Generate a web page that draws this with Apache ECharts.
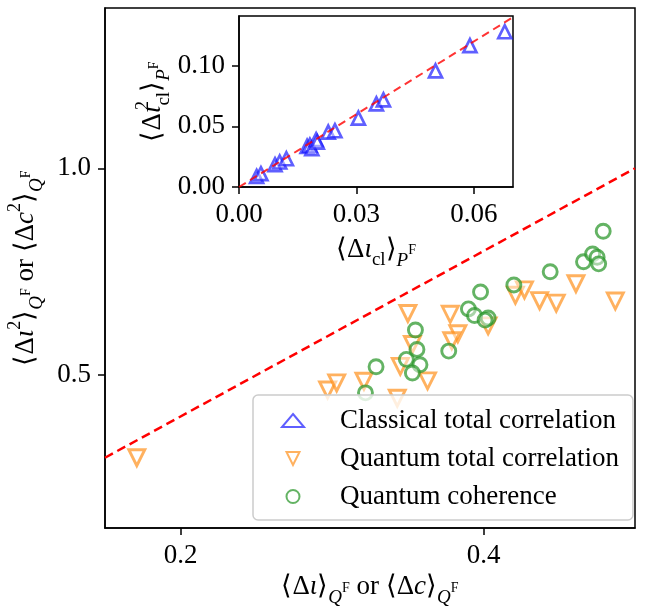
<!DOCTYPE html>
<html><head><meta charset="utf-8">
<script src="https://cdn.jsdelivr.net/npm/echarts@6/dist/echarts.min.js"></script>
<style>html,body{margin:0;padding:0;background:#fff}#c{width:657px;height:609px}</style>
</head><body><div id="c"></div>
<script>
// ---- data ----
const classicalX = [0.0045,0.0056,0.0092,0.0104,0.0121,0.0174,0.0181,0.0186,0.0197,0.0200,0.0228,0.0245,0.0305,0.0351,0.0369,0.0502,0.0590,0.0679];
const classicalY = [0.0087,0.0110,0.0184,0.0206,0.0233,0.0335,0.0345,0.0316,0.0390,0.0370,0.0453,0.0464,0.0568,0.0686,0.0719,0.0958,0.1166,0.1280];
const quantumX = [0.171,0.297,0.303,0.321,0.343,0.350,0.345,0.353,0.363,0.378,0.383,0.379,0.403,0.421,0.427,0.437,0.448,0.461,0.487];
const quantumY = [0.300,0.464,0.481,0.485,0.444,0.649,0.521,0.574,0.486,0.647,0.600,0.583,0.619,0.693,0.706,0.680,0.674,0.721,0.679];
const coherenceX = [0.322,0.329,0.349,0.355,0.356,0.358,0.353,0.377,0.390,0.394,0.398,0.403,0.401,0.420,0.444,0.466,0.472,0.475,0.476,0.479];
const coherenceY = [0.457,0.520,0.538,0.609,0.562,0.525,0.505,0.558,0.660,0.644,0.701,0.638,0.633,0.718,0.750,0.774,0.793,0.785,0.769,0.848];
const mainRefX = [0.15, 0.5];
const mainRefY = [0.30, 1.00];
const insetRefX = [0.0, 0.07];
const insetRefY = [0.0, 0.14];
const mainXTicks = [0.2, 0.4];
const mainYTicks = [0.5, 1.0];
const insetXTicks = [0.0, 0.03, 0.06];
const insetYTicks = [0.0, 0.05, 0.10];
const seriesNames = ['Classical total correlation','Quantum total correlation','Quantum coherence'];

const zip = (a,b) => a.map((v,i)=>[v,b[i]]);
const FONT = 'Liberation Serif';
const FS = 27;
const rich = {
  a:{fontFamily:FONT,fontSize:FS,color:'#000',verticalAlign:'bottom',padding:[0,0,7,0]},
  i:{fontFamily:FONT,fontSize:FS,fontStyle:'italic',color:'#000',verticalAlign:'bottom',padding:[0,0,7,0]},
  s:{fontFamily:FONT,fontSize:19,fontStyle:'italic',color:'#000',verticalAlign:'bottom',padding:[0,0,0,0]},
  sc:{fontFamily:FONT,fontSize:19,color:'#000',verticalAlign:'bottom',padding:[0,0,0,0]},
  p:{fontFamily:FONT,fontSize:14,color:'#000',verticalAlign:'bottom',padding:[0,0,13,0]},
  p2:{fontFamily:FONT,fontSize:18,color:'#000',verticalAlign:'bottom',padding:[0,0,22,0]},
  p3:{fontFamily:FONT,fontSize:18,color:'#000',verticalAlign:'bottom',padding:[0,0,22,0],width:0.1,align:'left'}
};
const axisCommon = {
  type:'value',
  axisLine:{show:true,onZero:false,lineStyle:{color:'#000',width:1.5}},
  splitLine:{show:false},
  nameTextStyle:{rich:rich}
};
const blue='rgba(20,20,255,0.85)', orange='rgba(255,140,20,0.85)', green='rgba(40,150,40,0.9)';
const fill='rgba(255,255,255,0.55)';
const chart = echarts.init(document.getElementById('c'));
chart.setOption({
  animation:false,
  backgroundColor:'#fff',
  grid:[
    {left:105,right:22,top:8,bottom:81,show:true,borderColor:'#000',borderWidth:1.5,backgroundColor:'transparent',containLabel:false,outerBoundsMode:'none'},
    {left:239,right:144,top:16,bottom:422,show:true,borderColor:'#000',borderWidth:1.5,backgroundColor:'#fff',z:5,containLabel:false,outerBoundsMode:'none'}
  ],
  xAxis:[
    Object.assign({},axisCommon,{gridIndex:0,min:0.15,max:0.5,
      axisTick:{show:true,length:7,lineStyle:{color:'#000',width:1.5},customValues:mainXTicks},
      axisLabel:{fontFamily:FONT,fontSize:FS,color:'#000',margin:14,customValues:mainXTicks,formatter:v=>v.toFixed(1)},
      name:'{a|⟨Δ}{i|ι}{a|⟩}{s|Q}{p|F}{a| or ⟨Δ}{i|c}{a|⟩}{s|Q}{p|F}',nameLocation:'middle',nameGap:42}),
    Object.assign({},axisCommon,{gridIndex:1,min:0,max:0.07,z:6,
      axisTick:{show:true,length:7,lineStyle:{color:'#000',width:1.5},customValues:insetXTicks},
      axisLabel:{fontFamily:FONT,fontSize:FS,color:'#000',margin:14,customValues:insetXTicks,formatter:v=>v.toFixed(2)},
      name:'{a|⟨Δ}{i|ι}{sc|cl}{a|⟩}{s|P}{p|F}',nameLocation:'middle',nameGap:49})
  ],
  yAxis:[
    Object.assign({},axisCommon,{gridIndex:0,min:0.13,max:1.388,
      axisTick:{show:true,length:7,lineStyle:{color:'#000',width:1.5},customValues:mainYTicks},
      axisLabel:{fontFamily:FONT,fontSize:FS,color:'#000',margin:14,customValues:mainYTicks,formatter:v=>v.toFixed(1)},
      name:'{a|⟨Δ}{i|ι}{p2|2}{a|⟩}{s|Q}{p|F}{a| or ⟨Δ}{i|c}{p2|2}{a|⟩}{s|Q}{p|F}',nameLocation:'middle',nameGap:58,nameRotate:90}),
    Object.assign({},axisCommon,{gridIndex:1,min:0,max:0.141,z:6,
      axisTick:{show:true,length:7,lineStyle:{color:'#000',width:1.5},customValues:insetYTicks},
      axisLabel:{fontFamily:FONT,fontSize:FS,color:'#000',margin:14,customValues:insetYTicks,formatter:v=>v.toFixed(2)},
      name:'{a|⟨Δ}{i|ι}{p3|2}{sc|cl}{a|⟩}{s|P}{p|F}',nameLocation:'middle',nameGap:64,nameRotate:90})
  ],
  legend:{
    data:seriesNames,orient:'vertical',left:253,top:395,
    padding:[12,14,10,28],itemWidth:22,itemHeight:13,itemGap:11,
    backgroundColor:'rgba(255,255,255,0.8)',borderColor:'#cccccc',borderWidth:1.5,borderRadius:5,
    textStyle:{fontFamily:FONT,fontSize:FS,color:'#000',padding:[0,0,0,31]}
  },
  series:[
    {name:'Quantum total correlation',type:'scatter',xAxisIndex:0,yAxisIndex:0,data:zip(quantumX,quantumY),
      symbol:'path://M0,0L2,0L1,2Z',symbolSize:16,symbolKeepAspect:true,
      itemStyle:{color:fill,borderColor:orange,borderWidth:2.9}},
    {name:'Quantum coherence',type:'scatter',xAxisIndex:0,yAxisIndex:0,data:zip(coherenceX,coherenceY),
      symbol:'circle',symbolSize:14,
      itemStyle:{color:fill,borderColor:green,borderWidth:2.9}},
    {name:'mainRef',type:'line',xAxisIndex:0,yAxisIndex:0,data:zip(mainRefX,mainRefY),symbol:'none',
      lineStyle:{color:'#ff0000',width:2.5,type:[9,5]},z:3},
    {name:'Classical total correlation',type:'scatter',xAxisIndex:1,yAxisIndex:1,data:zip(classicalX,classicalY),
      symbol:'triangle',symbolSize:13,z:7,
      itemStyle:{color:fill,borderColor:blue,borderWidth:2.7}},
    {name:'insetRef',type:'line',xAxisIndex:1,yAxisIndex:1,data:zip(insetRefX,insetRefY),symbol:'none',z:8,
      lineStyle:{color:'rgba(255,0,0,0.8)',width:2,type:[8,5]}}
  ]
});
</script></body></html>
